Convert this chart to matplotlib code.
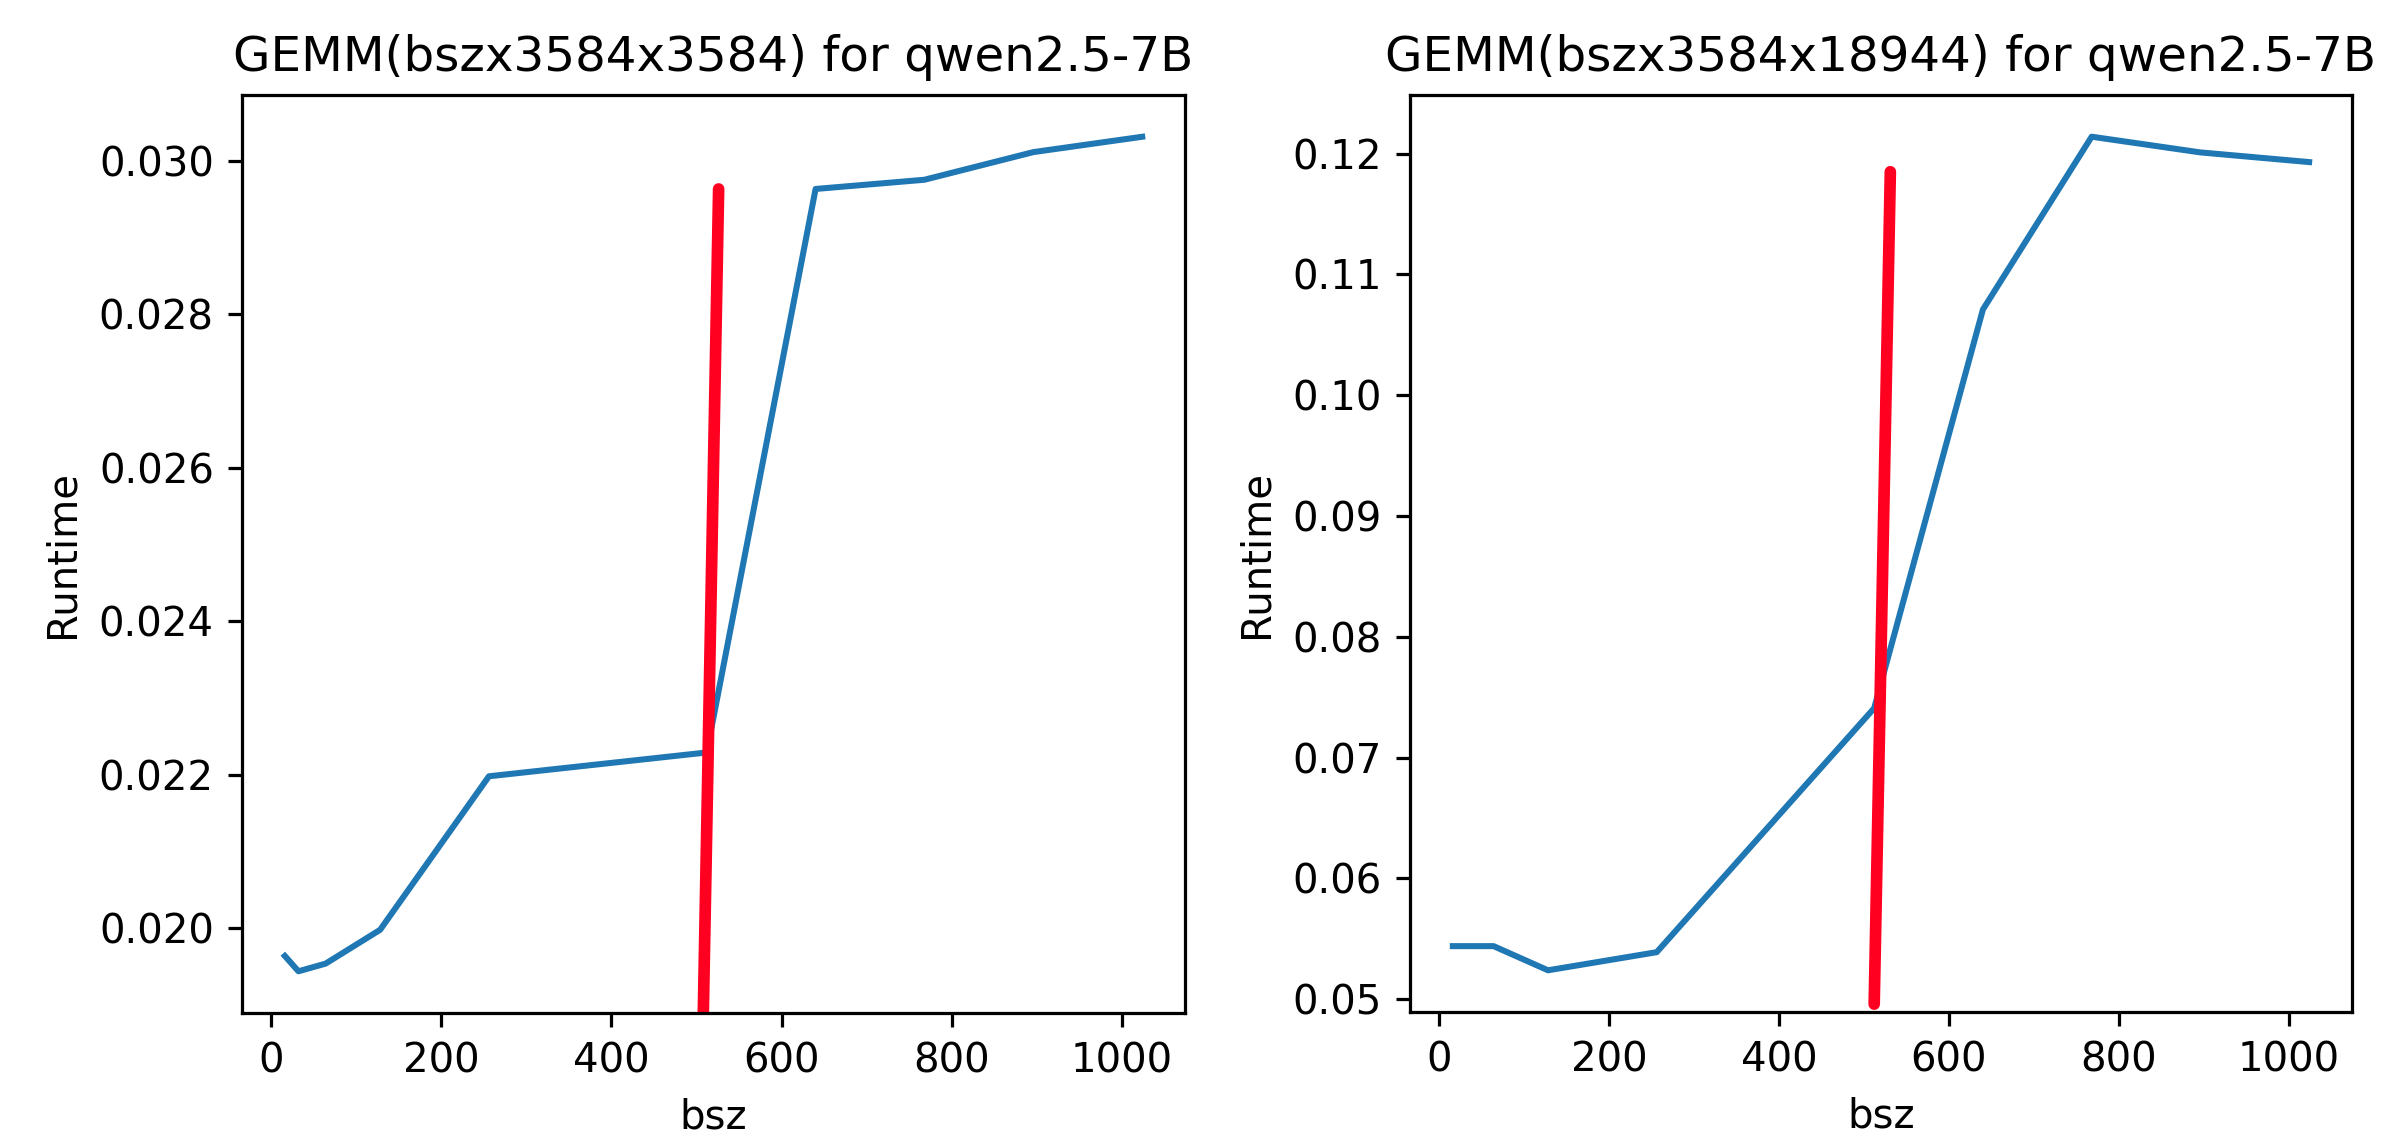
import numpy as np
import matplotlib
matplotlib.use("Agg")
import matplotlib.pyplot as plt

###batch sizes and measured runtimes
bsz = [16, 32, 64, 128, 256, 512, 640, 768, 896, 1024]
runtime_qkv = [0.01964, 0.01944, 0.01954, 0.01998, 0.02198, 0.02229,
               0.02963, 0.02975, 0.03011, 0.03031]
runtime_ffn = [0.0544, 0.0544, 0.0544, 0.0524, 0.0539, 0.0741,
               0.1071, 0.1214, 0.1201, 0.1193]

###red annotation strokes (x, y end points)
mark_qkv_x = [508, 526]
mark_qkv_y = [0.0189, 0.02963]
mark_ffn_x = [512, 531]
mark_ffn_y = [0.0496, 0.1185]

titles = ["GEMM(bszx3584x3584) for qwen2.5-7B",
          "GEMM(bszx3584x18944) for qwen2.5-7B"]

fig = plt.figure(figsize=(2398 / 290, 1134 / 290), dpi=290)
ax1 = fig.add_axes([0.1009, 0.1067, 0.3933, 0.8095])
ax2 = fig.add_axes([0.5880, 0.1076, 0.3928, 0.8086])

for ax, y, mx, my, title in [(ax1, runtime_qkv, mark_qkv_x, mark_qkv_y, titles[0]),
                             (ax2, runtime_ffn, mark_ffn_x, mark_ffn_y, titles[1])]:
    ax.plot(bsz, y, color="#1f77b4")
    # freeze the limits from the blue curve before adding the marker stroke
    ax.set_xlim(ax.get_xlim())
    ax.set_ylim(ax.get_ylim())
    ax.plot(mx, my, color="#ff0020", linewidth=2.9, solid_capstyle="round")
    ax.set_title(title)
    ax.set_xlabel("bsz")
    ax.set_ylabel("Runtime")

plt.savefig("out.png", dpi=290)
